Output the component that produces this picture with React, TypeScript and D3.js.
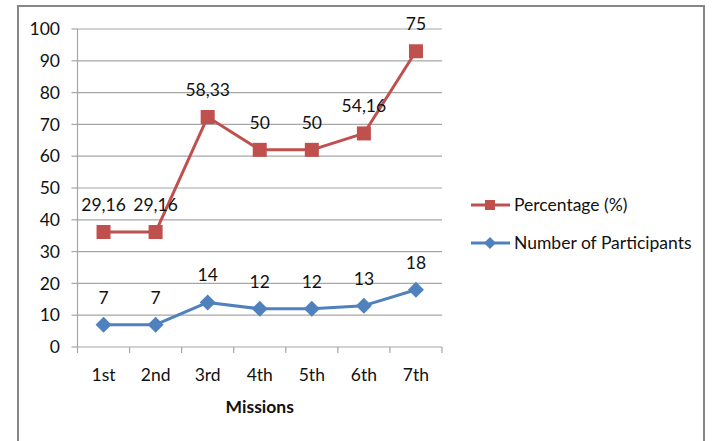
import React from "react";
import * as d3 from "d3";

const categories = ["1st", "2nd", "3rd", "4th", "5th", "6th", "7th"];
const participants = [7, 7, 14, 12, 12, 13, 18];
const percentage = [29.16, 29.16, 58.33, 50, 50, 54.16, 75];
const yTicks = [0, 10, 20, 30, 40, 50, 60, 70, 80, 90, 100];
const xTitle = "Missions";
const legendLabels = ["Percentage (%)", "Number of Participants"];

const RED = "#C0504D";
const BLUE = "#4F81BD";
const FONT = "Lato, 'Open Sans', sans-serif";
const FS = 17.5;

export default function App() {
  const W = 713, H = 441;
  const left = 77.5, right = 442, top = 29, bottom = 347;
  const x = d3.scaleBand().domain(categories).range([left, right]);
  const y = d3.scaleLinear().domain([0, 100]).range([bottom, top]);
  const cx = (c: string) => (x(c) as number) + x.bandwidth() / 2;

  // stacked line: percentage plotted on top of participants
  const stacked = percentage.map((p, i) => p + participants[i]);
  const line = d3.line<number>().x((_, i) => cx(categories[i])).y((d) => y(d));
  const fmt = (v: number) => String(v).replace(".", ",");

  const boundaries = categories.map((c) => x(c) as number).concat([right]);

  return (
    <div style={{ position: "absolute", left: 0, top: 0 }}>
      <svg width={W} height={H} style={{ display: "block", fontFamily: FONT }}>
        <rect x={0} y={0} width={W} height={H} fill="#fff" />
        <rect x={18} y={6} width={686} height={450} fill="#fff" stroke="#878787" strokeWidth={2} />
        {yTicks.map((t) => (
          <line key={"g" + t} x1={left} x2={right} y1={y(t)} y2={y(t)} stroke="#a6a6a6" strokeWidth={1.2} />
        ))}
        <line x1={left} x2={left} y1={top} y2={bottom} stroke="#a6a6a6" strokeWidth={1.2} />
        {yTicks.map((t) => (
          <g key={"yt" + t}>
            <line x1={left - 6} x2={left} y1={y(t)} y2={y(t)} stroke="#a6a6a6" strokeWidth={1.2} />
            <text x={60} y={y(t)} dy="0.35em" textAnchor="end" fontSize={FS} fill="#111">{t}</text>
          </g>
        ))}
        {boundaries.map((b, i) => (
          <line key={"xt" + i} x1={b} x2={b} y1={bottom} y2={bottom + 6} stroke="#a6a6a6" strokeWidth={1.2} />
        ))}
        {categories.map((c) => (
          <text key={"xl" + c} x={cx(c)} y={381} textAnchor="middle" fontSize={FS} fill="#111">{c}</text>
        ))}
        <text x={(left + right) / 2} y={413} textAnchor="middle" fontSize={FS} fontWeight="bold" fill="#111">{xTitle}</text>

        <path d={line(stacked) || ""} fill="none" stroke={RED} strokeWidth={3} strokeLinejoin="round" />
        {stacked.map((v, i) => (
          <rect key={"rs" + i} x={cx(categories[i]) - 7} y={y(v) - 7} width={14} height={14} fill={RED} />
        ))}
        {stacked.map((v, i) => (
          <text key={"rl" + i} x={cx(categories[i])} y={y(v) - 21} textAnchor="middle" fontSize={FS} fill="#111">{fmt(percentage[i])}</text>
        ))}

        <path d={line(participants) || ""} fill="none" stroke={BLUE} strokeWidth={3} strokeLinejoin="round" />
        {participants.map((v, i) => (
          <path key={"bd" + i} d={`M${cx(categories[i])},${y(v) - 8}l8,8l-8,8l-8,-8z`} fill={BLUE} />
        ))}
        {participants.map((v, i) => (
          <text key={"bl" + i} x={cx(categories[i])} y={y(v) - 21} textAnchor="middle" fontSize={FS} fill="#111">{fmt(v)}</text>
        ))}

        <g>
          <line x1={471} x2={510} y1={205} y2={205} stroke={RED} strokeWidth={3} />
          <rect x={485} y={200} width={10} height={10} fill={RED} />
          <text x={514} y={205} dy="0.35em" fontSize={FS} fill="#111">{legendLabels[0]}</text>
          <line x1={471} x2={510} y1={243} y2={243} stroke={BLUE} strokeWidth={3} />
          <path d={`M490,237l6,6l-6,6l-6,-6z`} fill={BLUE} />
          <text x={514} y={243} dy="0.35em" fontSize={FS} fill="#111">{legendLabels[1]}</text>
        </g>
      </svg>
    </div>
  );
}
